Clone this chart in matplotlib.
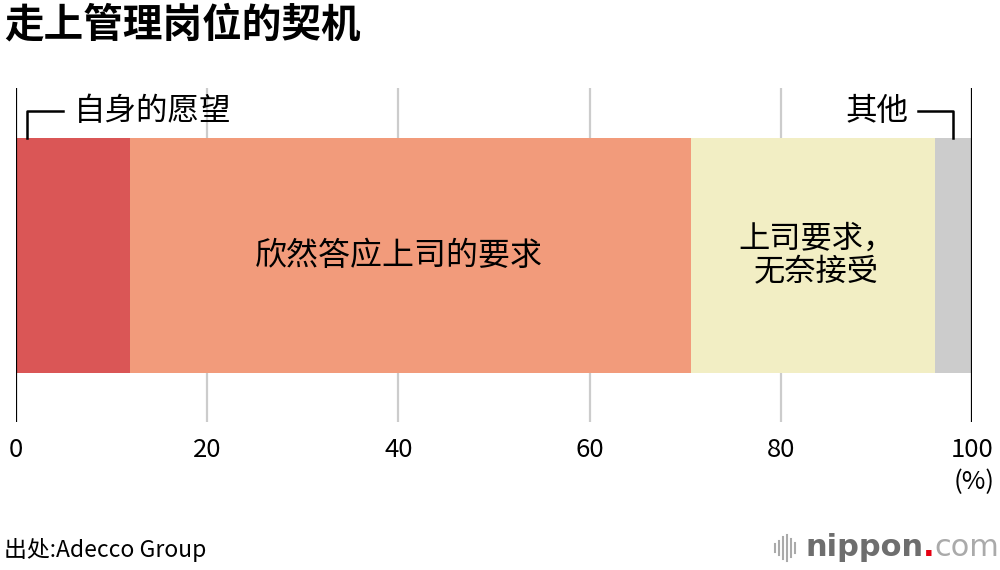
import matplotlib
matplotlib.use("Agg")
import matplotlib.pyplot as plt
from matplotlib.lines import Line2D

plt.rcParams['font.family'] = ['Noto Sans CJK SC', 'DejaVu Sans']

title = "走上管理岗位的契机"
categories = ["自身的愿望", "欣然答应上司的要求", "上司要求，\n无奈接受", "其他"]
values = [11.9, 58.7, 25.5, 3.9]
colors = ["#DA5656", "#F29B7B", "#F2EEC4", "#CCCCCC"]
ticks = [0, 20, 40, 60, 80, 100]
tick_labels = ["0", "20", "40", "60", "80", "100"]
source = "出处:Adecco Group"

W, H = 1000, 570
fig = plt.figure(figsize=(W / 100, H / 100), dpi=100)
ax = fig.add_axes([16 / W, 1 - 422 / H, 956 / W, 334 / H])
ax.set_xlim(0, 100)
ax.set_ylim(0, 1)
for s in ax.spines.values():
    s.set_visible(False)
ax.set_yticks([])
ax.set_xticks([])

# gridlines
for t in ticks:
    if t in (0, 100):
        ax.axvline(t, color="black", lw=1.6, zorder=3)
    else:
        ax.axvline(t, color="#CCCCCC", lw=1.6, zorder=0)

bar_y = (0.147 + 0.850) / 2
bar_h = 0.850 - 0.147
left = 0
lefts = []
for v, c in zip(values, colors):
    ax.barh(bar_y, v, left=left, height=bar_h, color=c, edgecolor="none", zorder=2)
    lefts.append(left)
    left += v

# inside labels
ax.text(lefts[1] + values[1] / 2 - 1.25, bar_y, categories[1], ha="center", va="center",
        fontsize=23, color="black", zorder=4)
ax.text(lefts[2] + values[2] / 2 + 0.4, bar_y, categories[2], ha="center", va="center",
        fontsize=22.5, color="black", linespacing=1.1, zorder=4)

# tick labels
for t, lab in zip(ticks, tick_labels):
    ax.text(t, -0.085, lab, ha="center", va="center", fontsize=18.5,
            transform=ax.transData, clip_on=False)
ax.text(102.4, -0.18, "(%)", ha="right", va="center", fontsize=18.5, clip_on=False)

def fx(px):
    return px / W

def fy(py):
    return 1 - py / H

fig.add_artist(Line2D([fx(26.5), fx(26.5), fx(63)], [fy(138), fy(111), fy(111)],
                      color="black", lw=1.8))
fig.text(fx(74), fy(111), categories[0], ha="left", va="center", fontsize=22.7)

fig.add_artist(Line2D([fx(918), fx(953), fx(953)], [fy(111), fy(111), fy(138)],
                      color="black", lw=1.8))
fig.text(fx(909), fy(111), categories[3], ha="right", va="center", fontsize=22.7)

# title
fig.text(fx(4), fy(25), title, ha="left", va="center", fontsize=28.5, fontweight="bold")

# source
fig.text(fx(4), fy(550), source, ha="left", va="center", fontsize=16.5)

# logo
bar_xs = [775, 779, 783, 787, 791, 795]
bar_hs = [8, 14, 22, 26, 18, 10]
for bx, bh in zip(bar_xs, bar_hs):
    fig.add_artist(Line2D([fx(bx), fx(bx)], [fy(548 - bh / 2), fy(548 + bh / 2)],
                          color="#AAAAAA", lw=1.5))
t1 = fig.text(fx(805), fy(548), "nippon", ha="left", va="center", fontsize=22,
              fontweight="bold", color="#6E6E6E", family="DejaVu Sans")
fig.canvas.draw()
bb = t1.get_window_extent()
t2 = fig.text(bb.x1 / W, fy(548), ".", ha="left", va="center", fontsize=22,
              fontweight="bold", color="#E60012", family="DejaVu Sans")
bb2 = t2.get_window_extent()
fig.text(bb2.x1 / W, fy(548), "com", ha="left", va="center", fontsize=22,
         color="#AAAAAA", family="DejaVu Sans")

fig.savefig("out.png", dpi=100)
